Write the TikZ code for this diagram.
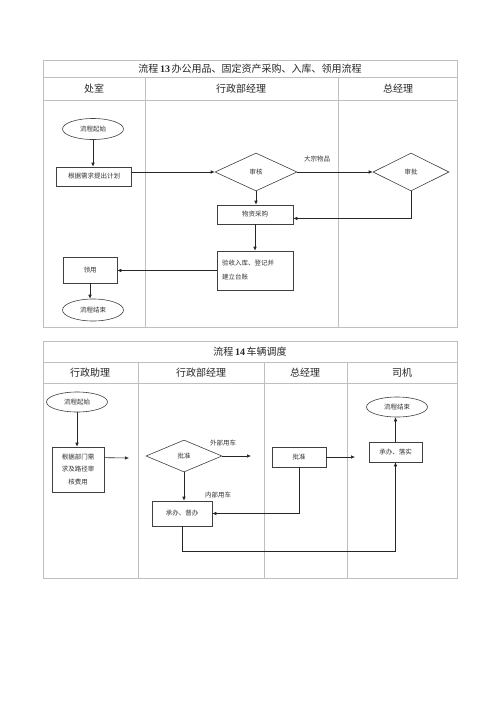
\documentclass[tikz,border=0pt]{standalone}
\usepackage{fontspec}
\setmainfont{Liberation Serif}
\newfontfamily\cjk{Noto Sans CJK SC}
\usetikzlibrary{arrows.meta,shapes.geometric,calc}
\begin{document}
\begin{tikzpicture}[x=1pt,y=-1pt,
  grid/.style={draw=black!25,line width=0.8pt},
  ttl/.style={font=\cjk\fontsize{10}{12}\selectfont,text=black!85,inner sep=0pt},
  hdr/.style={font=\cjk\fontsize{10}{12}\selectfont,text=black!85,inner sep=0pt},
  lbl/.style={font=\cjk\fontsize{6.5}{8}\selectfont,text=black!80,inner sep=0pt},
  box/.style={draw=black!75,line width=0.6pt,rectangle,inner sep=0pt,text=black!80,font=\cjk\fontsize{6.5}{8}\selectfont},
  ell/.style={draw=black!75,line width=0.6pt,ellipse,inner sep=0pt,text=black!80,font=\cjk\fontsize{6.5}{8}\selectfont,minimum width=61pt},
  dia/.style={draw=black!75,line width=0.6pt,diamond,inner sep=0pt,text=black!80,font=\cjk\fontsize{6.5}{8}\selectfont},
  arr/.style={draw=black!85,line width=0.6pt,-{Latex[length=4pt,width=3.5pt]}}
]
\useasboundingbox[fill=white] (0,0) rectangle (500,707);

% ---------- Table 13 ----------
\draw[grid] (43,60) rectangle (457,327);
\draw[grid] (43,77) -- (457,77);
\draw[grid] (43,100) -- (457,100);
\draw[grid] (145,77) -- (145,327);
\draw[grid] (338,77) -- (338,327);
\node[ttl] (t1) at (250,68.5) {流程\,{\rmfamily\bfseries 13}\,办公用品、固定资产采购、入库、领用流程};
\node[hdr] (h11) at (94,88.5) {处室};
\node[hdr] (h12) at (241,88.5) {行政部经理};
\node[hdr] (h13) at (398,88.5) {总经理};

\node[ell,minimum height=21pt] (s1) at (93,129) {流程起始};
\node[box,minimum width=75pt,minimum height=19pt] (p1) at (94,176.5) {根据需求提出计划};
\node[dia,minimum width=82pt,minimum height=38pt] (d1) at (256,172) {审核};
\node[dia,minimum width=76pt,minimum height=38pt] (d2) at (411,172) {审批};
\node[box,minimum width=76pt,minimum height=19pt] (p2) at (255,214.5) {物资采购};
\node[box,minimum width=76pt,minimum height=39pt,text width=66pt,align=left,font=\cjk\fontsize{6.5}{14}\selectfont] (p3) at (255,270.5) {验收入库、登记并\\建立台账};
\node[box,minimum width=54pt,minimum height=26pt] (p4) at (90,270) {领用};
\node[ell,minimum height=22pt] (e1) at (93,310) {流程结束};
\node[lbl] (l1) at (317,159) {大宗物品};

\draw[arr] (s1.south) -- (s1.south |- p1.north);
\draw[arr] (p1.east |- d1.west) -- (d1.west);
\draw[arr] (d1.east) -- (d2.west);
\draw[arr] (d1.south) -- (d1.south |- p2.north);
\draw[arr] (d2.south) |- ($(p2.north east)!0.7!(p2.south east)$);
\draw[arr] (p2.south) -- (p2.south |- p3.north);
\draw[arr] (p3.west) -- (p3.west -| p4.east);
\draw[arr] (p4.south) -- (p4.south |- e1.north);

% ---------- Table 14 ----------
\draw[grid] (43,341) rectangle (457,578);
\draw[grid] (43,362) -- (457,362);
\draw[grid] (43,383) -- (457,383);
\draw[grid] (138,362) -- (138,578);
\draw[grid] (264,362) -- (264,578);
\draw[grid] (347,362) -- (347,578);
\node[ttl] (t2) at (250,351.5) {流程\,{\rmfamily\bfseries 14}\,车辆调度};
\node[hdr] (h21) at (90,372.5) {行政助理};
\node[hdr] (h22) at (201,372.5) {行政部经理};
\node[hdr] (h23) at (305,372.5) {总经理};
\node[hdr] (h24) at (402,372.5) {司机};

\node[ell,minimum height=20pt] (s2) at (77,402) {流程起始};
\node[box,minimum width=52pt,minimum height=45pt,align=center,font=\cjk\fontsize{6.5}{12.5}\selectfont] (q1) at (78,469.5) {根据部门需\\求及路径审\\核费用};
\node[dia,minimum width=76pt,minimum height=32pt] (d3) at (184,456) {批准};
\node[box,minimum width=60pt,minimum height=25pt] (q2) at (182,513.5) {承办、督办};
\node[box,minimum width=54pt,minimum height=20pt] (q3) at (299,457) {批准};
\node[box,minimum width=53pt,minimum height=20pt] (q4) at (395.5,452) {承办、落实};
\node[ell,minimum height=20pt] (e2) at (397,407) {流程结束};
\node[lbl] (l2) at (223,443) {外部用车};
\node[lbl] (l3) at (218,495) {内部用车};
\coordinate (c1) at (129,458);
\coordinate (c2) at (251,456);
\coordinate (c3) at (355,457);

\draw[arr] (s2.south) -- (s2.south |- q1.north);
\draw[arr] ($(q1.north east)!0.24!(q1.south east)$) -- (c1);
\draw[arr] (d3.east) -- (c2);
\draw[arr] (d3.south) -- (d3.south |- q2.north);
\draw[arr] (q3.east) -- (c3);
\draw[arr] (q3.south) |- (q2.east);
\draw[arr] (q4.north) -- (q4.north |- e2.south);
\draw[arr] (q2.south) -- ++(0,25) -| (q4.south);
\end{tikzpicture}
\end{document}
